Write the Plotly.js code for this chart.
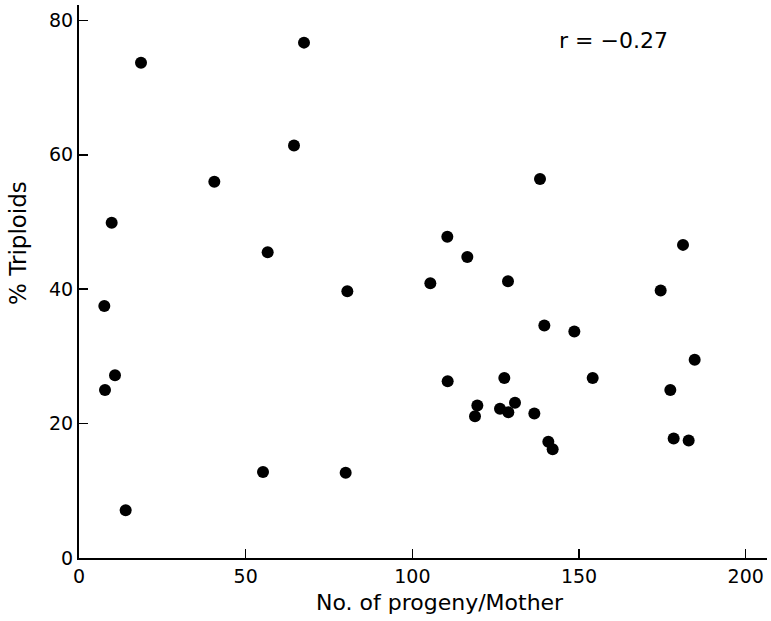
<!DOCTYPE html>
<html>
<head>
<meta charset="utf-8">
<script src="https://cdn.plot.ly/plotly-3.0.1.min.js"></script>
<style>html,body{margin:0;padding:0;background:#fff;}#chart{width:771px;height:621px;}</style>
</head>
<body>
<div id="chart"></div>
<script>
const progeny = [7.6, 7.8, 9.8, 10.8, 14.0, 18.6, 40.6, 55.2, 56.6, 64.5, 67.5, 80.0, 80.5,
  105.4, 110.5, 110.6, 116.5, 118.8, 119.5, 126.3, 127.6, 128.7, 128.8, 130.8, 136.6,
  138.3, 139.6, 140.8, 142.1, 148.6, 154.1, 174.5, 177.4, 178.4, 181.2, 182.9, 184.7];
const triploids = [37.5, 25.0, 49.9, 27.2, 7.1, 73.7, 56.0, 12.8, 45.5, 61.4, 76.7, 12.7, 39.7,
  40.9, 47.8, 26.3, 44.8, 21.1, 22.7, 22.2, 26.8, 41.2, 21.7, 23.1, 21.5,
  56.4, 34.6, 17.3, 16.2, 33.7, 26.8, 39.8, 25.0, 17.8, 46.6, 17.5, 29.5];
const xTicks = [0, 50, 100, 150, 200];
const yTicks = [0, 20, 40, 60, 80];
const rLabel = "r = \u22120.27";
const xTitle = "No. of progeny/Mother";
const yTitle = "% Triploids";

const font = "DejaVu Sans, Liberation Sans, Arial, sans-serif";

Plotly.newPlot("chart", [{
  type: "scatter", mode: "markers",
  x: progeny, y: triploids,
  marker: {color: "#000", size: 12, line: {width: 0}},
  hoverinfo: "none"
}], {
  width: 771, height: 621,
  margin: {l: 79, r: 4, t: 5, b: 63},
  paper_bgcolor: "#fff", plot_bgcolor: "#fff",
  showlegend: false,
  font: {family: font, color: "#000", size: 19},
  xaxis: {
    range: [0, 206.4], tickvals: xTicks, ticktext: xTicks.map(String),
    showgrid: false, zeroline: false,
    showline: true, linecolor: "#000", linewidth: 2,
    ticks: "inside", ticklen: 9, tickwidth: 1.5, tickcolor: "#000",
    tickfont: {family: font, size: 19, color: "#000"}
  },
  yaxis: {
    range: [0, 82.3], tickvals: yTicks, ticktext: yTicks.map(String),
    showgrid: false, zeroline: false,
    showline: true, linecolor: "#000", linewidth: 2,
    ticks: "inside", ticklen: 9, tickwidth: 1.5, tickcolor: "#000",
    tickfont: {family: font, size: 19, color: "#000"}
  },
  annotations: [
    {text: rLabel, xref: "x", yref: "y", x: 160.2, y: 77.0, showarrow: false,
     font: {family: font, size: 22, color: "#000"}, xanchor: "center", yanchor: "middle"},
    {text: yTitle, xref: "paper", yref: "paper", x: -0.0885, y: 0.57, textangle: -90,
     showarrow: false, font: {family: font, size: 23, color: "#000"}, xanchor: "center", yanchor: "middle"},
    {text: xTitle, xref: "paper", yref: "paper", x: 0.524, y: -0.08,
     showarrow: false, font: {family: font, size: 22, color: "#000"}, xanchor: "center", yanchor: "middle"}
  ]
}, {displayModeBar: false, staticPlot: true});
</script>
</body>
</html>
